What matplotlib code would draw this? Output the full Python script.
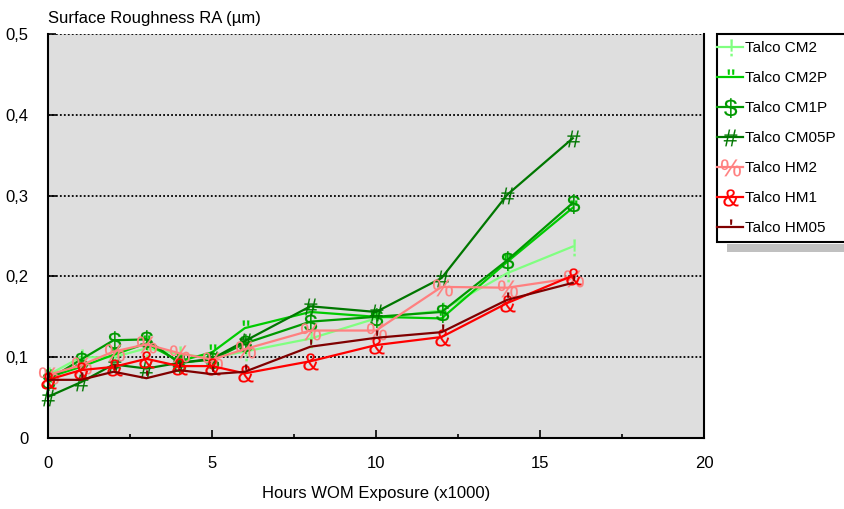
import matplotlib.pyplot as plt
from matplotlib.ticker import MultipleLocator, FuncFormatter
from matplotlib.path import Path
from matplotlib.textpath import TextPath
from matplotlib.font_manager import FontProperties
import matplotlib.patches as mpatches

plt.rcParams["font.family"] = ["Liberation Sans Narrow", "Liberation Sans", "DejaVu Sans"]

# hours of exposure (x1000)
hours = [0, 1, 2, 3, 4, 5, 6, 8, 10, 12, 14, 16]

# surface roughness RA (um) per sample
cm2 = [0.078, 0.100, 0.100, 0.111, 0.104, 0.099, 0.107, 0.123, 0.148, 0.158, 0.204, 0.237]
cm2p = [0.075, 0.088, 0.103, 0.117, 0.095, 0.106, 0.136, 0.156, 0.150, 0.148, 0.218, 0.285]
cm1p = [0.072, 0.097, 0.121, 0.122, 0.093, 0.097, 0.117, 0.144, 0.150, 0.156, 0.220, 0.291]
cm05p = [0.051, 0.069, 0.091, 0.086, 0.093, 0.098, 0.120, 0.163, 0.156, 0.198, 0.301, 0.371]
hm2 = [0.078, 0.090, 0.107, 0.116, 0.105, 0.097, 0.110, 0.133, 0.133, 0.187, 0.186, 0.198]
hm1 = [0.072, 0.084, 0.088, 0.098, 0.089, 0.089, 0.080, 0.095, 0.115, 0.125, 0.167, 0.201]
hm05 = [0.072, 0.072, 0.082, 0.074, 0.084, 0.079, 0.082, 0.113, 0.124, 0.131, 0.171, 0.192]

labels = ["Talco CM2", "Talco CM2P", "Talco CM1P", "Talco CM05P",
          "Talco HM2", "Talco HM1", "Talco HM05"]
symbols = ["!", '"', "$", "#", "%", "&", "'"]
colors = ["#80ff80", "#00cc00", "#009900", "#007700", "#ff8080", "#ff0000", "#800000"]

glyph_font = FontProperties(family=["Liberation Sans", "DejaVu Sans"])


def glyph_marker(ch):
    # character outline centred on its cap height, with fixed invisible corners
    # so every symbol gets the same scale
    tp = TextPath((0, 0), ch, size=10, prop=glyph_font)
    verts = tp.vertices.copy()
    cx = (verts[:, 0].min() + verts[:, 0].max()) / 2
    verts[:, 0] -= cx
    verts[:, 1] -= 3.6
    verts = list(map(tuple, verts)) + [(-6, -6), (6, 6)]
    codes = list(tp.codes) + [Path.MOVETO, Path.MOVETO]
    return Path(verts, codes)


fig = plt.figure(figsize=(8.44, 5.09), dpi=100)
ax = fig.add_axes([48 / 844, 1 - 438 / 509, (704 - 48) / 844, (438 - 34) / 509])
ax.set_facecolor("#dedede")

handles = []
for series, label, sym, color in zip(
        [cm2, cm2p, cm1p, cm05p, hm2, hm1, hm05], labels, symbols, colors):
    line, = ax.plot(hours, series, color=color, lw=1.6, marker=glyph_marker(sym), ms=21,
                    mec=color, mfc=color, mew=0.1, label=label, clip_on=False)
    handles.append(line)

ax.set_xlim(0, 20)
ax.set_ylim(0, 0.5)
ax.xaxis.set_major_locator(MultipleLocator(5))
ax.xaxis.set_minor_locator(MultipleLocator(2.5))
ax.yaxis.set_major_locator(MultipleLocator(0.1))
ax.yaxis.set_major_formatter(FuncFormatter(lambda v, p: "0" if v == 0 else f"{v:.1f}".replace(".", ",")))

ax.tick_params(axis="both", which="major", direction="in", length=6, width=1.2,
               labelsize=12, pad=13)
ax.tick_params(axis="x", which="minor", direction="in", length=3, width=1.2)
ax.tick_params(axis="y", which="major", pad=14)

for yv in [0.1, 0.2, 0.3, 0.4, 0.5]:
    ax.axhline(yv, color="black", lw=1.3, ls=(0, (1, 1.2)), zorder=1)

for side in ["left", "right", "bottom"]:
    ax.spines[side].set_linewidth(1.5)
ax.spines["top"].set_visible(False)

ax.set_xlabel("Hours WOM Exposure (x1000)", fontsize=12, labelpad=11)
fig.text(48 / 844, 1 - 18 / 509, "Surface Roughness RA (\u00b5m)", fontsize=12,
         ha="left", va="center")

# legend box with its grey shadow, running off the right edge like the original
fig.patches.append(mpatches.Rectangle((727 / 844, 1 - 252 / 509), 130 / 844, 8 / 509,
                                      transform=fig.transFigure, facecolor="#c0c0c0",
                                      edgecolor="none"))
fig.patches.append(mpatches.Rectangle((717 / 844, 1 - 242 / 509), 140 / 844, 208 / 509,
                                      transform=fig.transFigure, facecolor="white",
                                      edgecolor="black", lw=1.5))

fig.legend(handles=handles, loc="upper left", bbox_to_anchor=(711 / 844, 1 - 35 / 509),
           frameon=False, fontsize=11, handlelength=1.7, handletextpad=0.15,
           labelspacing=1.05, borderaxespad=0)

fig.savefig("out.png", dpi=100)
